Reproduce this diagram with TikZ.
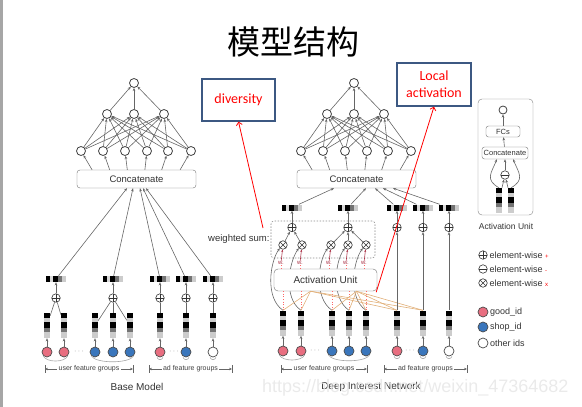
\documentclass[tikz,border=0pt]{standalone}
\usepackage{fontspec}
\setmainfont{Liberation Sans}
\newfontfamily\cjkfont{Noto Sans CJK SC}
\newfontfamily\notefont{Carlito}
\usetikzlibrary{arrows.meta,calc}

\definecolor{goodc}{RGB}{232,110,128}
\definecolor{shopc}{RGB}{58,118,188}
\definecolor{notec}{RGB}{60,88,130}
\definecolor{wred}{RGB}{170,50,70}
\definecolor{orng}{RGB}{225,175,120}

% pooled embedding, lying
\newcommand{\embrow}[3]{%
  \node[inner sep=0, minimum width=20pt, minimum height=6pt] (#1) at (#2,#3) {};
  \fill[black] (#2-10,#3-3) rectangle ++(4,6);
  \fill[black!15] (#2-6,#3-3) rectangle ++(3,6);
  \fill[black] (#2-3,#3-3) rectangle ++(5,6);
  \fill[black!55] (#2+2,#3-3) rectangle ++(4,6);
  \fill[black!20] (#2+6,#3-3) rectangle ++(4,6);
}
% feature embedding, standing
\newcommand{\embcol}[3]{%
  \node[inner sep=0, minimum width=6pt, minimum height=25pt] (#1) at (#2,#3) {};
  \fill[black] (#2-3,#3-12.5) rectangle ++(6,5);
  \fill[black!20] (#2-3,#3-7.5) rectangle ++(6,4);
  \fill[black] (#2-3,#3-3.5) rectangle ++(6,6);
  \fill[black!55] (#2-3,#3+2.5) rectangle ++(6,4);
  \fill[black!20] (#2-3,#3+6.5) rectangle ++(6,6);
}

\begin{document}
\begin{tikzpicture}[x=1pt, y=-1pt,
  conn/.style={draw=black!60, line width=0.6pt},
  arr/.style={conn, -{Stealth[length=3.2pt, width=2.6pt]}},
  grparr/.style={conn, {Stealth[length=3pt, width=2.6pt]}-{Stealth[length=3pt, width=2.6pt]}},
  grp/.style={draw=black!35, line width=0.6pt},
  nn/.style={circle, draw=black!75, fill=white, line width=0.8pt, minimum size=9pt, inner sep=0},
  catbox/.style={draw=black!55, fill=white, rounded corners=3pt, minimum width=119pt, minimum height=18pt, inner sep=0, font=\fontsize{9.5}{10}\selectfont, text=black!80},
  smallbox/.style={draw=black!55, fill=white, rounded corners=2.5pt, inner sep=0, font=\fontsize{7.5}{8}\selectfont, text=black!80},
  feat/.style={circle, draw=black!70, line width=0.7pt, minimum size=10pt, inner sep=0},
  opnode/.style={circle, draw=black!80, fill=white, line width=0.6pt, minimum size=8.5pt, inner sep=0},
  opplus/.style={opnode, path picture={\draw[black!80, line width=0.6pt] (path picture bounding box.north) -- (path picture bounding box.south) (path picture bounding box.west) -- (path picture bounding box.east);}},
  opminus/.style={opnode, path picture={\draw[black!80, line width=0.6pt] (path picture bounding box.west) -- (path picture bounding box.east);}},
  optimes/.style={opnode, path picture={\draw[black!80, line width=0.6pt] (path picture bounding box.north west) -- (path picture bounding box.south east) (path picture bounding box.south west) -- (path picture bounding box.north east);}},
  sumbox/.style={draw=black!45, dash pattern=on 1.5pt off 1.5pt, line width=0.6pt, rounded corners=3pt, minimum width=104pt, minimum height=37pt},
  aubox/.style={draw=black!55, fill=white, rounded corners=4pt, minimum width=103pt, minimum height=22pt, font=\fontsize{10}{10}\selectfont, text=black!80},
  wlab/.style={font=\fontsize{6}{6}\selectfont, text=wred, inner sep=0.5pt},
  wdot/.style={draw=red!60, dotted, line width=0.6pt},
  warr/.style={draw=wred, line width=0.6pt, -{Stealth[length=2.5pt, width=2pt]}},
  orl/.style={draw=orng, line width=0.6pt},
  notebox/.style={draw=notec, line width=1.3pt, fill=white, font=\notefont\fontsize{14}{17}\selectfont, text=red},
  redarr/.style={draw=red, line width=0.8pt, -{Straight Barb[length=3pt, width=6pt]}},
  lgtxt/.style={anchor=west, inner sep=0, font=\fontsize{9}{9}\selectfont, text=black!80},
  dotsn/.style={text=black!50, inner sep=0, font=\fontsize{8}{8}\selectfont},
  lbl/.style={font=\fontsize{10}{10}\selectfont, text=black!80}]
\useasboundingbox (0,0) rectangle (582,407);
\fill[black!35] (0,0) rectangle (3,407);
\node[font=\cjkfont\fontsize{33}{33}\selectfont] (title) at (293,42) {模型结构};
%
% upper networks of both models
\foreach \m/\dx in {b/0, d/220}{
  \node[catbox] (\m-cat) at (136.5+\dx,179) {Concatenate};
  \node[nn] (\m-o) at (134+\dx,83) {};
  \foreach \i/\x in {1/107, 2/134, 3/164}
    \node[nn] (\m-h\i) at (\x+\dx,114) {};
  \foreach \i/\x in {1/81, 2/103, 3/125, 4/147, 5/168, 6/191}
    \node[nn] (\m-l\i) at (\x+\dx,151) {};
  \foreach \i in {1,...,6}{
    \draw[arr] ($(\m-cat.north -| \m-l\i)!0.2!(\m-cat.north)$) -- (\m-l\i);
    \foreach \j in {1,2,3}
      \draw[arr] (\m-l\i) -- (\m-h\j);
  }
  \foreach \j in {1,2,3}
    \draw[arr] (\m-h\j) -- (\m-o);
}
%
% base model
\foreach \n/\x/\fc in {1/47/goodc, 2/64/goodc, 3/95/shopc, 4/113/shopc, 5/130/shopc, 6/160/goodc, 7/186/shopc, 8/213/white}{
  \node[feat, fill=\fc] (bf\n) at (\x,352) {};
  \embcol{be\n}{\x}{325.5}
  \draw[arr] (bf\n) -- (be\n);
}
\foreach \g/\x in {1/56, 2/113, 3/160, 4/186, 5/213}{
  \node[opplus] (bp\g) at (\x,298) {};
  \embrow{bs\g}{\x}{279}
  \draw[arr] (bp\g) -- (bs\g);
}
\foreach \n/\g in {1/1, 2/1, 3/2, 4/2, 5/2, 6/3, 7/4, 8/5}
  \draw[conn] (be\n) -- (bp\g);
\foreach \g/\t in {1/127, 2/133, 3/140, 4/143, 5/146}
  \draw[arr] (bs\g) -- (\t,0 |- b-cat.south);
\node[dotsn] (bd1) at (79,352) {$\cdots$};
\node[dotsn] (bd2) at (174,352) {$\cdots$};
\draw[grp] (bf1.south west) .. controls +(3,7) and +(-3,7) .. (bf2.south east);
\draw[grp] (bf3.south west) .. controls +(4,8) and +(-4,8) .. (bf5.south east);
\foreach \n in {6,7,8}
  \draw[grp] ([xshift=-3]bf\n.south) .. controls +(1,3) and +(-1,3) .. ([xshift=3]bf\n.south);
%
% deep interest network
\node[sumbox] (wsum) at (323,239.5) {};
\node[anchor=east, inner sep=1pt, font=\fontsize{9.5}{10}\selectfont, text=black!80] (wsl) at (wsum.west) {weighted sum:};
\foreach \n/\x/\fc in {1/283/goodc, 2/301/goodc, 3/332/shopc, 4/349/shopc, 5/366/shopc, 6/397/goodc, 7/423/shopc, 8/449/white}{
  \node[feat, fill=\fc] (df\n) at (\x,351) {};
  \embcol{de\n}{\x}{323}
  \draw[arr] (df\n) -- (de\n);
}
\foreach \n/\x in {1/283, 2/302, 3/331, 4/348, 5/366}{
  \node[optimes] (dm\n) at (\x,245) {};
  \node[wlab] (dw\n) at (\x-2,263) {w.};
  \draw[arr] (de\n.north) .. controls +(-18,-12) and +(-10,14) .. (dm\n.south west);
}
\node[aubox] (au) at (325.5,280) {Activation Unit};
\foreach \n in {1,...,5}{
  \draw[wdot] (dw\n.south) -- (dw\n.south |- au.north);
  \draw[wdot] (de\n.north |- au.south) -- (de\n.north);
  \draw[warr] (dw\n) -- (dm\n);
}
\coordinate (hub1) at ([xshift=-15]au.south);
\coordinate (hub2) at ([xshift=31]au.south);
\foreach \n in {1,2,6,7}
  \draw[orl] (hub1) -- (de\n.north);
\foreach \n in {3,4,5,6,7}
  \draw[orl] (hub2) -- (de\n.north);
\foreach \g/\x in {1/292, 2/348, 3/397, 4/423, 5/449}{
  \node[opplus] (dp\g) at (\x,227.5) {};
  \embrow{ds\g}{\x}{207.5}
  \draw[arr] (dp\g) -- (ds\g);
}
\foreach \n/\g in {1/1, 2/1, 3/2, 4/2, 5/2}
  \draw[arr] (dm\n) -- (dp\g);
\foreach \n/\g in {6/3, 7/4, 8/5}
  \draw[arr] (de\n) -- (dp\g);
\foreach \g/\t in {1/334, 2/366, 3/375, 4/383, 5/393}
  \draw[arr] (ds\g) -- (\t,0 |- d-cat.south);
\node[dotsn] (dd1) at (315,351) {$\cdots$};
\node[dotsn] (dd2) at (410,351) {$\cdots$};
\draw[grp] (df1.south west) .. controls +(3,7) and +(-3,7) .. (df2.south east);
\draw[grp] (df3.south west) .. controls +(4,8) and +(-4,8) .. (df5.south east);
\foreach \n in {6,7,8}
  \draw[grp] ([xshift=-3]df\n.south) .. controls +(1,3) and +(-1,3) .. ([xshift=3]df\n.south);
%
% feature group brackets
\coordinate (bu-l) at (45,369);  \coordinate (bu-r) at (133,369);
\coordinate (ba-l) at (149,369); \coordinate (ba-r) at (232,369);
\coordinate (du-l) at (281,369); \coordinate (du-r) at (367,369);
\coordinate (da-l) at (384,369); \coordinate (da-r) at (467,369);
\foreach \p/\txt in {bu/user feature groups, ba/ad feature groups, du/user feature groups, da/ad feature groups}{
  \draw[grparr] (\p-l) -- (\p-r) node[midway, fill=white, inner sep=1.5pt, font=\fontsize{7}{7}\selectfont, text=black!75] (\p-t) {\txt};
  \draw[conn] ([yshift=4]\p-l) -- ([yshift=-4]\p-l);
  \draw[conn] ([yshift=4]\p-r) -- ([yshift=-4]\p-r);
}
\node[lbl] (bname) at (137,387) {Base Model};
\node[lbl] (dname) at (371,387) {Deep Interest Network};
\node[anchor=west, font=\fontsize{18}{18}\selectfont, text=black!10, opacity=0.8, inner sep=0] (wm) at (262,388) {https://blog.csdn.net/weixin\_47364682};
%
% notes
\node[notebox, minimum width=73pt, minimum height=42pt] (div) at (238.5,100) {diversity};
\node[notebox, minimum width=74pt, minimum height=43pt, align=center] (loc) at (434,84.5) {Local\\activation};
\coordinate (divtail) at (263,228);
\draw[redarr] (divtail) -- (div.south);
\draw[redarr] ([shift={(-1,1)}]au.south east) -- (loc.south);
%
% activation unit detail
\node[draw=black!50, rounded corners=4pt, minimum width=55pt, minimum height=116pt] (aulg) at (505.5,157) {};
\node[nn, minimum size=8pt] (auo) at (503,110) {};
\node[smallbox, minimum width=34pt, minimum height=11pt] (aufc) at (503,131.5) {FCs};
\node[smallbox, minimum width=46pt, minimum height=12pt] (aucat) at (505,153) {Concatenate};
\node[opminus] (aum) at (505,175) {};
\embcol{aue1}{499}{200.5}
\embcol{aue2}{511}{200.5}
\draw[arr] (aue1) -- (aum);
\draw[arr] (aue2) -- (aum);
\draw[arr] (aue1.north) .. controls +(-14,-8) and +(-6,14) .. ([xshift=-8]aucat.south);
\draw[arr] (aue2.north) .. controls +(14,-8) and +(6,14) .. ([xshift=8]aucat.south);
\draw[arr] (aum) -- (aucat);
\draw[arr] (aucat) -- (aufc);
\draw[arr] (aufc) -- (auo);
\node[font=\fontsize{8.5}{9}\selectfont, text=black!80] (aulbl) at (506,226) {Activation Unit};
%
% legend
\node[opplus] (lg1) at (483,255) {};
\node[opminus] (lg2) at (483,269) {};
\node[optimes] (lg3) at (483,283) {};
\node[feat, fill=goodc] (lg4) at (483,312) {};
\node[feat, fill=shopc] (lg5) at (483,327) {};
\node[feat, fill=white] (lg6) at (483,343) {};
\node[lgtxt] (lgt1) at (489.5,255) {element-wise {\color{red}\fontsize{6}{6}\selectfont +}};
\node[lgtxt] (lgt2) at (489.5,269) {element-wise {\color{red}\fontsize{6}{6}\selectfont -}};
\node[lgtxt] (lgt3) at (489.5,283) {element-wise {\color{red}\fontsize{6}{6}\selectfont x}};
\node[lgtxt] (lgt4) at (490,312) {good\_id};
\node[lgtxt] (lgt5) at (490,327) {shop\_id};
\node[lgtxt] (lgt6) at (490,343) {other ids};
\end{tikzpicture}
\end{document}
